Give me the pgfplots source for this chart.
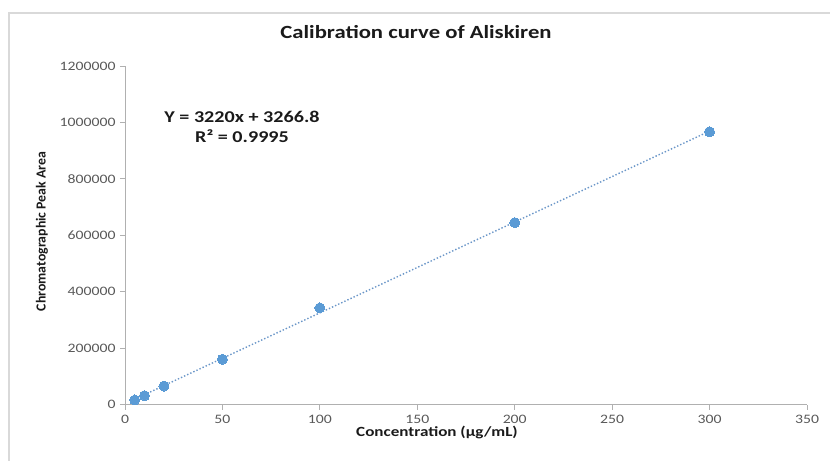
\documentclass[border=0pt]{standalone}
\usepackage{fontspec}
\setmainfont{Carlito}[FakeStretch=1.22]
\newfontfamily\plainfont{Carlito}
\usepackage{pgfplots}
\pgfplotsset{compat=1.18}
\definecolor{pt}{HTML}{5B9BD5}
\definecolor{trd}{HTML}{6A96C8}
\definecolor{axg}{HTML}{B0B0B0}
\definecolor{tkg}{HTML}{595959}
\definecolor{frm}{HTML}{D9D9D9}
\definecolor{txt}{HTML}{1A1A1A}
\begin{document}
\begin{tikzpicture}[x=1bp,y=1bp]
\begin{axis}[
  at={(0,0)}, anchor=south west,
  scale only axis, width=682bp, height=338.7bp,
  xmin=0, xmax=350, ymin=0, ymax=1200000,
  xtick={0,50,...,350}, ytick={0,200000,400000,600000,800000,1000000,1200000},
  scaled y ticks=false, scaled x ticks=false,
  /pgf/number format/assume math mode=true,
  /pgf/number format/fixed,
  /pgf/number format/1000 sep={},
  axis x line=bottom, axis y line=left,
  axis line style={axg, line width=0.9bp, -},
  tick align=outside, major tick length=5bp,
  tick style={axg, line width=0.9bp},
  ticklabel style={font=\fontsize{12.9bp}{14bp}\selectfont, text=tkg},
  xticklabel style={yshift=-2bp},
  yticklabel style={xshift=-1bp},
  title={\bfseries Calibration curve of Aliskiren},
  title style={at={(rel axis cs:0.4267,1.0827)}, anchor=center, font=\fontsize{18.6bp}{20bp}\selectfont, text=txt},
  xlabel={\bfseries Concentration (µg/mL)},
  xlabel style={at={(rel axis cs:0.4575,-0.0806)}, anchor=center, font=\fontsize{14bp}{16bp}\selectfont, text=txt},
  ylabel={\plainfont\bfseries Chromatographic Peak Area},
  ylabel style={at={(rel axis cs:-0.1217,0.5114)}, anchor=center, rotate=0, font=\fontsize{13.8bp}{15bp}\selectfont, text=txt},
  clip=false,
]
\addplot[trd, line width=1.4bp, dash pattern=on 1.4bp off 2bp] coordinates {(5,19366.8) (300,969266.8)};
\addplot[pt, only marks, mark=*, mark size=5bp, mark options={draw=pt, fill=pt, line width=0pt}] coordinates {
(5,16700) (10,32000) (20,66000) (50,161000) (100,343000) (200,645000) (300,967000)};
\node[align=center, font=\fontsize{16.5bp}{20bp}\selectfont\bfseries, text=txt] at (rel axis cs:0.1716,0.820) {Y = 3220x + 3266.8\\R² = 0.9995};
\end{axis}
\draw[frm, line width=1.2bp] (-116,-56.3) -- (-116,391.7) -- (705,391.7);
\pgfresetboundingbox
\useasboundingbox (-125,-56.3) rectangle (705,404.7);
\end{tikzpicture}
\end{document}
